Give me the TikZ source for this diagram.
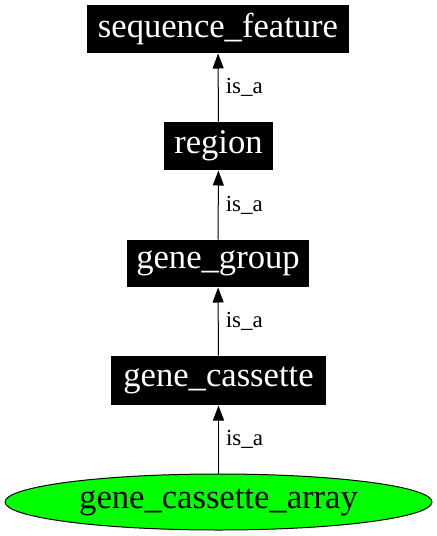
\documentclass[tikz,border=0pt]{standalone}
\usepackage{fontspec}
\setmainfont{Liberation Serif}
\usetikzlibrary{arrows.meta}
\usetikzlibrary{shapes.geometric}
\tikzset{>={Triangle[length=7.5pt,width=5.5pt]}}
\tikzset{
  termbox/.style={fill=black, text=white, inner sep=0pt,
    font=\fontsize{17.3}{20}\selectfont},
  leafterm/.style={ellipse, draw=black, fill=green, inner sep=0pt, line width=0.5pt,
    font=\fontsize{17.3}{20}\selectfont},
  isa/.style={midway, right, inner sep=3.5pt, font=\fontsize{11.5}{13}\selectfont}
}

\begin{document}
\begin{tikzpicture}[x=0.5pt, y=-0.5pt, line width=0.5pt]
    \useasboundingbox (0,0) rectangle (437,536);

    % terms, top to bottom
    \node[termbox, minimum width=131pt, minimum height=24pt] (sf) at (218,29) {sequence\_feature};
    \node[termbox, minimum width=54.5pt, minimum height=24pt] (region) at (218.5,146) {region};
    \node[termbox, minimum width=91pt, minimum height=23.5pt] (gg) at (218,263.5) {gene\_group};
    \node[termbox, minimum width=107.5pt, minimum height=24.5pt] (gc) at (218.5,380.5) {gene\_cassette};
    \node[leafterm, minimum width=213.5pt, minimum height=28pt] (gca) at (218.5,502) {gene\_cassette\_array};

    % is_a edges
    \draw[->] (region) -- (sf) node[isa] {is\_a};
    \draw[->] (gg) -- (region) node[isa] {is\_a};
    \draw[->] (gc) -- (gg) node[isa] {is\_a};
    \draw[->] (gca) -- (gc) node[isa] {is\_a};
\end{tikzpicture}
\end{document}
